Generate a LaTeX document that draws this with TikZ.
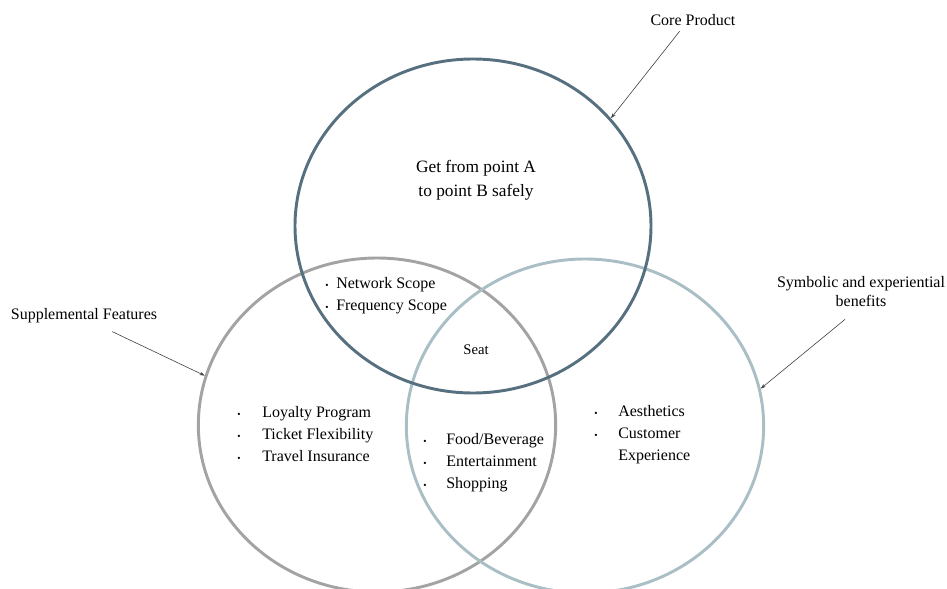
\documentclass[tikz,border=0pt]{standalone}
\usepackage{fontspec}
\setmainfont{Liberation Serif}
\usetikzlibrary{shapes.geometric,arrows.meta}
\definecolor{coreblue}{HTML}{56707F}
\definecolor{supgray}{HTML}{A3A3A3}
\definecolor{symblue}{HTML}{A9BEC5}
\newcommand{\bulA}{\makebox[18.75pt][l]{\scriptsize •}}
\newcommand{\bulB}{\makebox[8.25pt][l]{\scriptsize •}}
\newcommand{\bulC}{\makebox[17.25pt][l]{\scriptsize •}}
\newcommand{\bulD}{\makebox[18pt][l]{\scriptsize •}}
\begin{document}
\begin{tikzpicture}[x=0.75pt,y=-0.75pt,
  ring/.style={ellipse, draw, line width=2.2pt, minimum width=268pt, minimum height=250.5pt, inner sep=0pt},
  callout/.style={-{Stealth[length=4pt,width=2.6pt]}, line width=0.45pt, black!75},
  tag/.style={font=\fontsize{12}{14.25}\selectfont, align=center, inner sep=0pt},
  listtext/.style={font=\fontsize{12}{16.5}\selectfont, align=left, anchor=west, inner sep=0pt}]
\useasboundingbox (0,0) rectangle (947,589);
% circles
\node[ring, draw=supgray] (sup) at (377,425) {};
\node[ring, draw=symblue] (sym) at (585,426) {};
\node[ring, draw=coreblue, minimum width=267pt] (core) at (473,226) {};
% callout labels
\node[tag] (cpl) at (693,20) {Core Product};
\node[tag] (sfl) at (84,316) {Supplemental Features};
\node[tag] (sbl) at (861,292) {Symbolic and experiential\\benefits};
\draw[callout] ([xshift=-10pt,yshift=-4pt]cpl.south) -- (core.38.5);
\draw[callout] ([xshift=21pt,yshift=-6pt]sfl.south) -- (sup.164.4);
\draw[callout] ([xshift=-12pt,yshift=-9pt]sbl.south) -- (sym.12);
% contents
\node[font=\fontsize{13}{18}\selectfont, align=center, inner sep=0pt] (goal) at (476,180) {Get from point A\\to point B safely};
\node[font=\fontsize{11}{13}\selectfont, inner sep=0pt] (seat) at (476,350) {Seat};
\node[listtext] (scope) at (325,296) {\bulB Network Scope\\ \bulB Frequency Scope};
\node[listtext] (supl) at (237,434) {\bulA Loyalty Program\\ \bulA Ticket Flexibility\\ \bulA Travel Insurance};
\node[listtext] (food) at (423,463) {\bulC Food/Beverage\\ \bulC Entertainment\\ \bulC Shopping};
\node[listtext] (aes) at (594,435) {\bulD Aesthetics\\ \bulD Customer\\ \hspace*{18pt}Experience};
\end{tikzpicture}
\end{document}
